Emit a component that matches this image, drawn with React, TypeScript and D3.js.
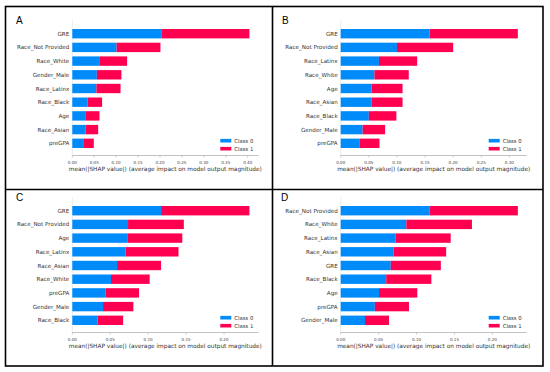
import React from 'react';
import * as d3 from 'd3';

// mean |SHAP| per feature, one set per panel (class 0 / class 1)
const featuresA = ['GRE', 'Race_Not Provided', 'Race_White', 'Gender_Male', 'Race_Latinx', 'Race_Black', 'Age', 'Race_Asian', 'preGPA'];
const class0A = [0.203, 0.101, 0.063, 0.056, 0.055, 0.035, 0.031, 0.030, 0.025];
const class1A = [0.201, 0.100, 0.062, 0.056, 0.055, 0.033, 0.031, 0.029, 0.024];
const ticksA = [0, 0.05, 0.1, 0.15, 0.2, 0.25, 0.3, 0.35, 0.4];

const featuresB = ['GRE', 'Race_Not Provided', 'Race_Latinx', 'Race_White', 'Age', 'Race_Asian', 'Race_Black', 'Gender_Male', 'preGPA'];
const class0B = [0.158, 0.100, 0.068, 0.060, 0.055, 0.055, 0.050, 0.039, 0.034];
const class1B = [0.157, 0.100, 0.068, 0.061, 0.055, 0.055, 0.049, 0.040, 0.035];
const ticksB = [0, 0.05, 0.1, 0.15, 0.2, 0.25, 0.3];

const featuresC = ['GRE', 'Race_Not Provided', 'Age', 'Race_Latinx', 'Race_Asian', 'Race_White', 'preGPA', 'Gender_Male', 'Race_Black'];
const class0C = [0.117, 0.0735, 0.0725, 0.070, 0.059, 0.051, 0.044, 0.0405, 0.0335];
const class1C = [0.1165, 0.0735, 0.0725, 0.070, 0.058, 0.051, 0.044, 0.040, 0.0335];
const ticksC = [0, 0.05, 0.1, 0.15, 0.2];

const featuresD = ['Race_Not Provided', 'Race_White', 'Race_Latinx', 'Race_Asian', 'GRE', 'Race_Black', 'Age', 'preGPA', 'Gender_Male'];
const class0D = [0.117, 0.0865, 0.0725, 0.0695, 0.066, 0.060, 0.0505, 0.045, 0.032];
const class1D = [0.1165, 0.0865, 0.0725, 0.0695, 0.066, 0.0595, 0.0505, 0.045, 0.0317];
const ticksD = [0, 0.05, 0.1, 0.15, 0.2];

const classNames = ['Class 0', 'Class 1'];
const colors = ['#008BFB', '#FF0051'];
const axisTitle = 'mean(|SHAP value|) (average impact on model output magnitude)';

const W = 550;
const H = 372;
const FONT = '"DejaVu Sans", sans-serif';

type PanelProps = {
  letter: string;
  features: string[];
  c0: number[];
  c1: number[];
  ticks: number[];
  spineX: number;
  oy: number;
  letterX: number;
};

const Panel = ({ letter, features, c0, c1, ticks, spineX, oy, letterX }: PanelProps) => {
  const plotW = 186;
  const firstY = 33.7 + oy;
  const step = 13.7;
  const axisY = 155.5 + oy;
  const maxTotal = d3.max(c0.map((v, i) => v + c1[i])) as number;

  const x = d3.scaleLinear().domain([0, maxTotal * 1.05]).range([spineX, spineX + plotW]);
  const y = d3.scalePoint<string>().domain(features).range([firstY, firstY + step * (features.length - 1)]);
  const barH = 9.4;

  return (
    <g>
      <text x={letterX} y={24 + oy} fontFamily='"Liberation Sans", Arial, sans-serif' fontSize={10} fill="#000">{letter}</text>
      <line x1={spineX} x2={spineX} y1={20 + oy} y2={axisY} stroke="#dddddd" strokeWidth={0.6} />
      {features.map((f, i) => (
        <g key={f}>
          <rect x={x(0)} y={(y(f) as number) - barH / 2} width={x(c0[i]) - x(0)} height={barH} fill={colors[0]} />
          <rect x={x(c0[i])} y={(y(f) as number) - barH / 2} width={x(c0[i] + c1[i]) - x(c0[i])} height={barH} fill={colors[1]} />
          <text x={spineX - 3} y={(y(f) as number) + 2} textAnchor="end" fontFamily={FONT} fontSize={5.6} fill="#333">{f}</text>
        </g>
      ))}
      <line x1={spineX} x2={spineX + plotW} y1={axisY} y2={axisY} stroke="#999" strokeWidth={0.6} />
      {ticks.map((t) => (
        <g key={t}>
          <line x1={x(t)} x2={x(t)} y1={axisY} y2={axisY + 2} stroke="#999" strokeWidth={0.5} />
          <text x={x(t)} y={axisY + 8.5} textAnchor="middle" fontFamily={FONT} fontSize={4.1} fill="#444">{d3.format('.2f')(t)}</text>
        </g>
      ))}
      <text x={spineX + plotW / 2} y={axisY + 15} textAnchor="middle" fontFamily={FONT} fontSize={5.8} fill="#333">{axisTitle}</text>
      {classNames.map((c, i) => (
        <g key={c}>
          <rect x={spineX + 148} y={axisY - 14.8 + i * 8 - 1.8} width={11} height={3.6} fill={colors[i]} />
          <text x={spineX + 162} y={axisY - 14.8 + i * 8 + 2} fontFamily={FONT} fontSize={5.3} fill="#333">{c}</text>
        </g>
      ))}
    </g>
  );
};

const App = () => {
  return (
    <div style={{ position: 'fixed', left: 0, top: 0 }}>
      <svg width={W} height={H} style={{ display: 'block', background: '#fff' }}>
        <rect x={0} y={0} width={W} height={H} fill="#fff" />
        <Panel letter="A" features={featuresA} c0={class0A} c1={class1A} ticks={ticksA} spineX={72.3} oy={0} letterX={16} />
        <Panel letter="B" features={featuresB} c0={class0B} c1={class1B} ticks={ticksB} spineX={340.7} oy={0} letterX={282} />
        <Panel letter="C" features={featuresC} c0={class0C} c1={class1C} ticks={ticksC} spineX={72.3} oy={177} letterX={16} />
        <Panel letter="D" features={featuresD} c0={class0D} c1={class1D} ticks={ticksD} spineX={340.7} oy={177} letterX={281} />
        <rect x={5.5} y={6.5} width={537.5} height={359.5} fill="none" stroke="#000" strokeWidth={1.6} />
        <line x1={272.5} x2={272.5} y1={6.5} y2={366} stroke="#000" strokeWidth={1.6} />
        <line x1={5.5} x2={543} y1={189.5} y2={189.5} stroke="#000" strokeWidth={1.6} />
      </svg>
    </div>
  );
};

export default App;
